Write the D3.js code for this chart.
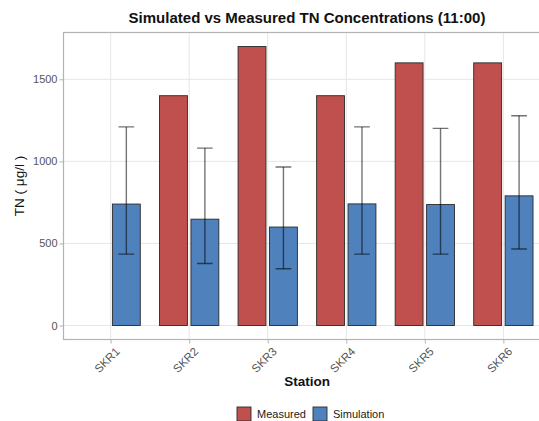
<!DOCTYPE html>
<html>
<head>
<meta charset="utf-8">
<script src="https://cdn.jsdelivr.net/npm/d3@7"></script>
<style>
  html, body { margin: 0; padding: 0; background: #fff; }
  svg { display: block; font-family: "Liberation Sans", Arial, Helvetica, sans-serif; }
</style>
</head>
<body>
<svg id="chart" width="539" height="421"></svg>
<script>
// ---- data ----
const stations = ["SKR1", "SKR2", "SKR3", "SKR4", "SKR5", "SKR6"];
const measured = [null, 1400, 1700, 1400, 1600, 1600];
const simulation = [740, 648, 600, 741, 737, 790];
const simLower = [435, 378, 346, 435, 435, 466];
const simUpper = [1210, 1081, 966, 1210, 1201, 1278];
const yTicks = [0, 500, 1000, 1500];
const seriesNames = ["Measured", "Simulation"];
const seriesColors = ["#C0504D", "#4F81BD"];

// ---- layout ----
const svg = d3.select("#chart");
const W = 539, H = 421;
const panel = { left: 63.5, top: 32.5, right: 550.5, bottom: 339.5 };

const x = d3.scalePoint()
  .domain(stations)
  .range([panel.left, panel.right])
  .padding(0.6);
const step = x.step();

const y = d3.scaleLinear()
  .domain([-85, 1785])
  .range([panel.bottom, panel.top]);

svg.append("defs").append("clipPath").attr("id", "pclip")
  .append("rect")
  .attr("x", panel.left).attr("y", panel.top)
  .attr("width", panel.right - panel.left).attr("height", panel.bottom - panel.top);

// background
svg.append("rect").attr("width", W).attr("height", H).attr("fill", "#fff");

// grid
const grid = svg.append("g");
grid.selectAll("line.h").data(yTicks).join("line")
  .attr("x1", panel.left).attr("x2", panel.right)
  .attr("y1", d => y(d)).attr("y2", d => y(d))
  .attr("stroke", "#e6e6e6").attr("stroke-width", 1);
grid.selectAll("line.v").data(stations).join("line")
  .attr("x1", d => x(d)).attr("x2", d => x(d))
  .attr("y1", panel.top).attr("y2", panel.bottom)
  .attr("stroke", "#e6e6e6").attr("stroke-width", 1);

// bars
const barW = step * 0.355;
const off = step * 0.2;
const barsG = svg.append("g").attr("clip-path", "url(#pclip)");
const measuredData = stations.map((s, i) => ({ s, v: measured[i] })).filter(d => d.v != null);
const simData = stations.map((s, i) => ({ s, v: simulation[i], lo: simLower[i], hi: simUpper[i] }));

barsG.selectAll("rect.m").data(measuredData).join("rect")
  .attr("x", d => x(d.s) - off - barW / 2)
  .attr("y", d => y(d.v))
  .attr("width", barW)
  .attr("height", d => y(0) - y(d.v))
  .attr("fill", seriesColors[0])
  .attr("stroke", "#2a2a2a").attr("stroke-width", 0.9);

barsG.selectAll("rect.s").data(simData).join("rect")
  .attr("x", d => x(d.s) + off - barW / 2)
  .attr("y", d => y(d.v))
  .attr("width", barW)
  .attr("height", d => y(0) - y(d.v))
  .attr("fill", seriesColors[1])
  .attr("stroke", "#2a2a2a").attr("stroke-width", 0.9);

// error bars
const capW = step * 0.2;
const eb = barsG.selectAll("g.eb").data(simData).join("g")
  .attr("stroke", "#000").attr("stroke-opacity", 0.55).attr("stroke-width", 1.4);
eb.append("line")
  .attr("x1", d => x(d.s) + off).attr("x2", d => x(d.s) + off)
  .attr("y1", d => y(d.lo)).attr("y2", d => y(d.hi));
eb.append("line")
  .attr("x1", d => x(d.s) + off - capW / 2).attr("x2", d => x(d.s) + off + capW / 2)
  .attr("y1", d => y(d.lo)).attr("y2", d => y(d.lo));
eb.append("line")
  .attr("x1", d => x(d.s) + off - capW / 2).attr("x2", d => x(d.s) + off + capW / 2)
  .attr("y1", d => y(d.hi)).attr("y2", d => y(d.hi));

// panel border
svg.append("rect")
  .attr("x", panel.left).attr("y", panel.top)
  .attr("width", panel.right - panel.left).attr("height", panel.bottom - panel.top)
  .attr("fill", "none").attr("stroke", "#b3b3b3").attr("stroke-width", 1.2);

// y axis
const yAxis = svg.append("g")
  .attr("transform", `translate(${panel.left},0)`)
  .call(d3.axisLeft(y).tickValues(yTicks).tickSize(4).tickPadding(2).tickFormat(d3.format("d")));
yAxis.select(".domain").remove();
yAxis.selectAll(".tick line").attr("stroke", "#b3b3b3").attr("stroke-width", 1);
yAxis.selectAll(".tick text").attr("fill", "#555555").style("font-size", "11px");

// x axis
const xAxis = svg.append("g")
  .attr("transform", `translate(0,${panel.bottom})`)
  .call(d3.axisBottom(x).tickSize(4).tickFormat(() => ""));
xAxis.select(".domain").remove();
xAxis.selectAll(".tick line").attr("stroke", "#b3b3b3").attr("stroke-width", 1);

svg.append("g").selectAll("text").data(stations).join("text")
  .attr("transform", d => `translate(${x(d) + 4},${panel.bottom + 7}) rotate(-45)`)
  .attr("text-anchor", "end")
  .attr("dy", "0.71em")
  .attr("fill", "#555555")
  .style("font-size", "11.5px")
  .text(d => d);

// titles
const cx = (panel.left + panel.right) / 2;
svg.append("text")
  .attr("x", cx).attr("y", 23)
  .attr("text-anchor", "middle")
  .style("font-size", "15px").style("font-weight", "bold")
  .attr("fill", "#111")
  .text("Simulated vs Measured TN Concentrations (11:00)");

svg.append("text")
  .attr("x", cx).attr("y", 386)
  .attr("text-anchor", "middle")
  .style("font-size", "13.5px").style("font-weight", "bold")
  .attr("fill", "#111")
  .text("Station");

svg.append("text")
  .attr("transform", `translate(24,${(panel.top + panel.bottom) / 2}) rotate(-90)`)
  .attr("text-anchor", "middle")
  .style("font-size", "13.5px")
  .attr("fill", "#111")
  .text("TN ( μg/l )");

// legend
const legendX = [237, 313];
const legend = svg.append("g");
seriesNames.forEach((name, i) => {
  legend.append("rect")
    .attr("x", legendX[i]).attr("y", 407)
    .attr("width", 14).attr("height", 14)
    .attr("fill", seriesColors[i])
    .attr("stroke", "#2a2a2a").attr("stroke-width", 0.9);
  legend.append("text")
    .attr("x", legendX[i] + 20).attr("y", 418)
    .style("font-size", "11px")
    .attr("fill", "#1a1a1a")
    .text(name);
});
</script>
</body>
</html>
